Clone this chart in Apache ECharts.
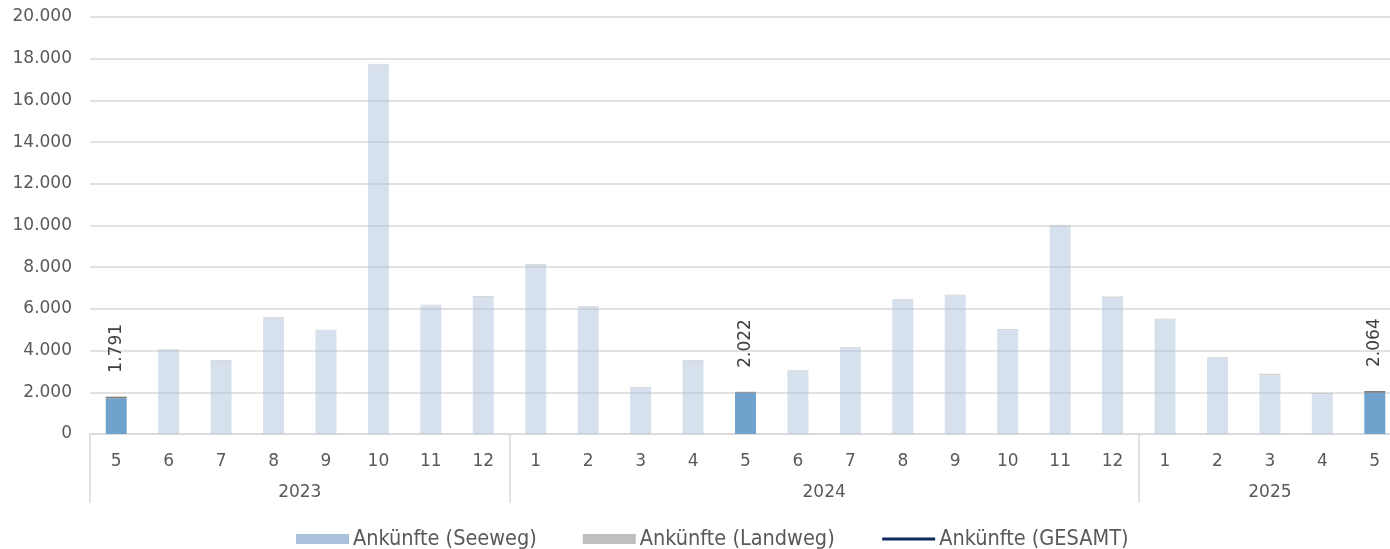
<!DOCTYPE html>
<html>
<head>
<meta charset="utf-8">
<script src="https://cdn.jsdelivr.net/npm/echarts@6/dist/echarts.min.js"></script>
<style>
html,body{margin:0;padding:0;background:#fff;}
#chart{width:1390px;height:549px;}
</style>
</head>
<body>
<div id="chart"></div>
<script>
// ---- data ----
const monthLabels = ['5','6','7','8','9','10','11','12','1','2','3','4','5','6','7','8','9','10','11','12','1','2','3','4','5'];
const yearOfMonth = [0,0,0,0,0,0,0,0,1,1,1,1,1,1,1,1,1,1,1,1,2,2,2,2,2];
const yearLabels = ['2023','2024','2025'];
const highlighted = [0, 12, 24];
const seeweg   = [1711,4020,3520,5540,4980,17720,6180,6580,8110,6100,2210,3520,1982,3050,4140,6410,6650,4980,10000,6530,5500,3660,2820,1920,1974];
const landweg  = [80,40,30,60,20,30,20,40,40,30,40,30,40,20,30,50,30,50,30,60,30,30,70,50,90];
const gesamt   = [1791,4060,3550,5600,5000,17750,6200,6620,8150,6130,2250,3550,2022,3070,4170,6460,6680,5030,10030,6590,5530,3690,2890,1970,2064];
const yTicks   = {min: 0, max: 20000, interval: 2000};

// ---- helpers ----
function fmt(v){ return String(v).replace(/\B(?=(\d{3})+(?!\d))/g, '.'); }

// half-step axis (boundaries + centers) for year grouping
const nHalf = monthLabels.length * 2 + 1;
const halfData = new Array(nHalf).fill('');
const tickIdx = new Set();
const labelIdx = new Set();
yearLabels.forEach((y, yi) => {
  const first = yearOfMonth.indexOf(yi);
  const last = yearOfMonth.lastIndexOf(yi);
  tickIdx.add(first * 2);
  tickIdx.add((last + 1) * 2);
  const mid = first + last + 1; // center in half-steps
  halfData[mid] = y;
  labelIdx.add(mid);
});

const axisFont = 'DejaVu Sans';
const seeData = seeweg.map((v, i) => highlighted.includes(i)
  ? {value: v, itemStyle: {color: '#6FA3CE', opacity: 1}}
  : {value: v, itemStyle: {opacity: 0.48}});
const landData = landweg.map((v, i) => highlighted.includes(i)
  ? {value: v, itemStyle: {color: '#7F7F7F', opacity: 1},
     label: {show: true}}
  : {value: v, itemStyle: {opacity: 0.7}});

const chart = echarts.init(document.getElementById('chart'), null, {renderer: 'canvas'});
chart.setOption({
  animation: false,
  backgroundColor: '#ffffff',
  grid: {left: 90, width: 1311, top: 17, bottom: 115, containLabel: false, outerBoundsMode: 'none'},
  legend: {
    left: 291, top: 523,
    itemWidth: 53, itemHeight: 10, itemGap: 46,
    textStyle: {fontFamily: 'DejaVu Sans Condensed, DejaVu Sans', fontSize: 21.5, color: '#595959', padding: [0,0,0,-1]},
    data: [
      {name: 'Ankünfte (Seeweg)', icon: 'rect'},
      {name: 'Ankünfte (Landweg)', icon: 'rect'},
      {name: 'Ankünfte (GESAMT)', lineStyle: {color: '#0E2A5C', width: 3, opacity: 1}, itemStyle: {opacity: 0}}
    ]
  },
  xAxis: [
    {
      type: 'category', position: 'bottom', data: monthLabels,
      axisLine: {show: true, lineStyle: {color: '#d9d9d9', width: 1.5}},
      axisTick: {show: false},
      axisLabel: {color: '#595959', fontFamily: axisFont, fontSize: 17, margin: 19, interval: 0}
    },
    {
      type: 'category', position: 'bottom', boundaryGap: false, data: halfData,
      axisLine: {show: false},
      axisTick: {show: true, length: 69, interval: (i) => tickIdx.has(i), lineStyle: {color: '#d9d9d9', width: 1.5}},
      axisLabel: {color: '#595959', fontFamily: axisFont, fontSize: 17, margin: 50, interval: (i) => labelIdx.has(i)},
      splitLine: {show: false}
    }
  ],
  yAxis: {
    type: 'value', min: yTicks.min, max: yTicks.max, interval: yTicks.interval,
    axisLine: {show: false}, axisTick: {show: false},
    splitLine: {lineStyle: {color: '#d9d9d9', width: 1.5}},
    axisLabel: {color: '#595959', fontFamily: axisFont, fontSize: 17, margin: 18, formatter: fmt}
  },
  series: [
    {
      name: 'Ankünfte (Seeweg)', type: 'bar', stack: 'a', barWidth: '40%', xAxisIndex: 0,
      itemStyle: {color: '#A9C1DA'},
      data: seeData
    },
    {
      name: 'Ankünfte (Landweg)', type: 'bar', stack: 'a', barWidth: '40%', xAxisIndex: 0,
      itemStyle: {color: '#BFBFBF'},
      label: {
        show: false, position: 'top', distance: 24, rotate: 90,
        align: 'left', verticalAlign: 'middle',
        color: '#404040', fontFamily: axisFont, fontSize: 17,
        formatter: (p) => fmt(gesamt[p.dataIndex])
      },
      data: landData
    },
    {
      name: 'Ankünfte (GESAMT)', type: 'line', xAxisIndex: 0, symbol: 'none',
      lineStyle: {color: '#0E2A5C', width: 3, opacity: 0},
      itemStyle: {color: '#0E2A5C'},
      silent: true,
      data: gesamt
    }
  ]
});
</script>
</body>
</html>
